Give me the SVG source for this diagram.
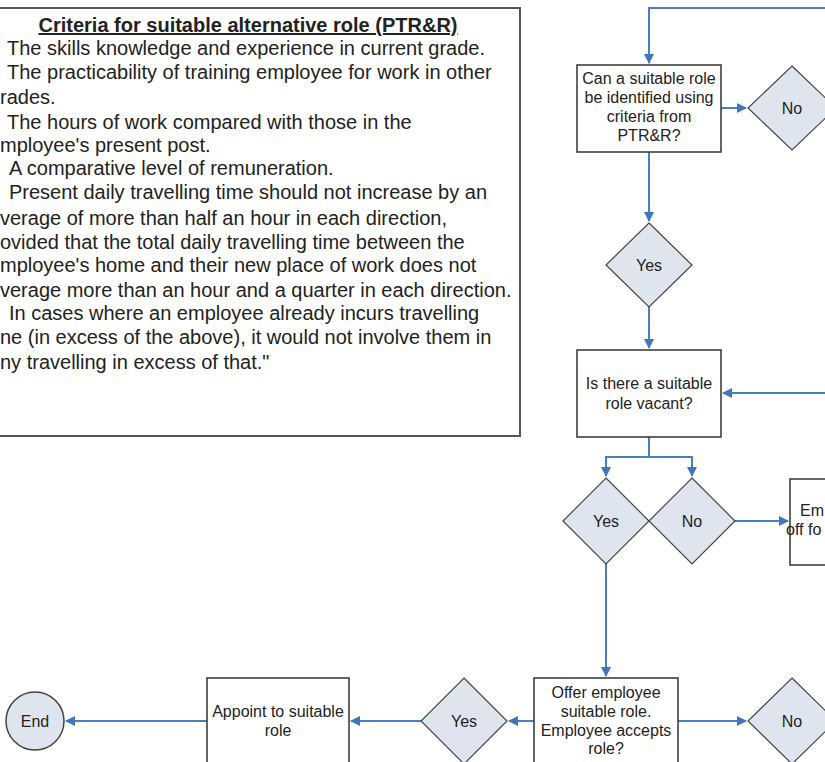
<svg xmlns="http://www.w3.org/2000/svg" width="825" height="762" viewBox="0 0 825 762">
<style>
.panel-t{font-family:"Liberation Sans",Arial,sans-serif;font-size:20px;fill:#222}
.ttl{font-weight:bold;text-decoration:underline}
.nt{font-family:"Liberation Sans",Arial,sans-serif;font-size:16px;fill:#222;text-anchor:middle}
.st{text-anchor:start}
.box{fill:#fff;stroke:#333;stroke-width:1.5}
.dia{fill:#dfe5ef;stroke:#444;stroke-width:1.2}
.con{fill:none;stroke:#4a7ebf;stroke-width:2}
</style>
<defs>
<marker id="ah" viewBox="0 0 10 10" refX="9" refY="5" markerWidth="5" markerHeight="5" orient="auto" markerUnits="strokeWidth">
<path d="M0,0 L10,5 L0,10 z" fill="#3f77bc"/>
</marker>
</defs>
<rect width="825" height="762" fill="#fff"/>

<g id="criteria">
<rect x="-3" y="8" width="523" height="428" fill="#fff" stroke="#555" stroke-width="2"/>
<text class="panel-t ttl" x="248" y="32" text-anchor="middle">Criteria for suitable alternative role (PTR&amp;R)</text>
<text class="panel-t" x="7" y="55">The skills knowledge and experience in current grade.</text>
<text class="panel-t" x="7" y="79">The practicability of training employee for work in other</text>
<text class="panel-t" x="0" y="104">rades.</text>
<text class="panel-t" x="7" y="129">The hours of work compared with those in the</text>
<text class="panel-t" x="0" y="152">mployee's present post.</text>
<text class="panel-t" x="9" y="175">A comparative level of remuneration.</text>
<text class="panel-t" x="9" y="199">Present daily travelling time should not increase by an</text>
<text class="panel-t" x="0" y="225">verage of more than half an hour in each direction,</text>
<text class="panel-t" x="0" y="249">ovided that the total daily travelling time between the</text>
<text class="panel-t" x="0" y="272">mployee's home and their new place of work does not</text>
<text class="panel-t" x="0" y="297">verage more than an hour and a quarter in each direction.</text>
<text class="panel-t" x="9" y="320">In cases where an employee already incurs travelling</text>
<text class="panel-t" x="0" y="344">ne (in excess of the above), it would not involve them in</text>
<text class="panel-t" x="0" y="369">ny travelling in excess of that."</text>
</g>

<g id="connectors">
<path class="con" d="M825,8 H649 V63" marker-end="url(#ah)"/>
<path class="con" d="M721,108 H746" marker-end="url(#ah)"/>
<path class="con" d="M649,152 V221" marker-end="url(#ah)"/>
<path class="con" d="M649,307 V348" marker-end="url(#ah)"/>
<path class="con" d="M825,393 H723" marker-end="url(#ah)"/>
<path class="con" d="M649,437 V457 H606 V476" marker-end="url(#ah)"/>
<path class="con" d="M649,457 H692 V476" marker-end="url(#ah)"/>
<path class="con" d="M735,521 H788" marker-end="url(#ah)"/>
<path class="con" d="M606,564 V676" marker-end="url(#ah)"/>
<path class="con" d="M678,721 H746" marker-end="url(#ah)"/>
<path class="con" d="M534,721 H509" marker-end="url(#ah)"/>
<path class="con" d="M421,721 H351" marker-end="url(#ah)"/>
<path class="con" d="M207,721 H66" marker-end="url(#ah)"/>
</g>

<g id="q-identify">
<rect class="box" x="577" y="65" width="144" height="87"/>
<text class="nt" x="649" y="84">Can a suitable role</text>
<text class="nt" x="649" y="103">be identified using</text>
<text class="nt" x="649" y="122">criteria from</text>
<text class="nt" x="649" y="141">PTR&amp;R?</text>
</g>
<g id="d-no-1">
<polygon class="dia" points="792,66 836,108 792,150 748,108"/>
<text class="nt" x="792" y="114">No</text>
</g>
<g id="d-yes-1">
<polygon class="dia" points="649,223 692,265 649,307 606,265"/>
<text class="nt" x="649" y="271">Yes</text>
</g>
<g id="q-vacant">
<rect class="box" x="577" y="350" width="144" height="87"/>
<text class="nt" x="649" y="389">Is there a suitable</text>
<text class="nt" x="649" y="409">role vacant?</text>
</g>
<g id="d-yes-2">
<polygon class="dia" points="606,478 649,521 606,564 563,521"/>
<text class="nt" x="606" y="527">Yes</text>
</g>
<g id="d-no-2">
<polygon class="dia" points="692,478 735,521 692,564 649,521"/>
<text class="nt" x="692" y="527">No</text>
</g>
<g id="employee-off">
<rect class="box" x="790" y="479" width="60" height="86"/>
<text class="nt st" x="800" y="516">Em</text>
<text class="nt st" x="786" y="535">off fo</text>
</g>
<g id="q-offer">
<rect class="box" x="534" y="678" width="144" height="90"/>
<text class="nt" x="606" y="698">Offer employee</text>
<text class="nt" x="606" y="717">suitable role.</text>
<text class="nt" x="606" y="736">Employee accepts</text>
<text class="nt" x="606" y="754">role?</text>
</g>
<g id="d-no-3">
<polygon class="dia" points="792,678 836,721 792,764 748,721"/>
<text class="nt" x="792" y="727">No</text>
</g>
<g id="d-yes-3">
<polygon class="dia" points="464,678 507,721 464,764 421,721"/>
<text class="nt" x="464" y="727">Yes</text>
</g>
<g id="appoint">
<rect class="box" x="207" y="678" width="142" height="90"/>
<text class="nt" x="278" y="717">Appoint to suitable</text>
<text class="nt" x="278" y="736">role</text>
</g>
<g id="end">
<circle cx="35" cy="721" r="29" fill="#dfe5ef" stroke="#444" stroke-width="1.5"/>
<text class="nt" x="35" y="727">End</text>
</g>
</svg>
